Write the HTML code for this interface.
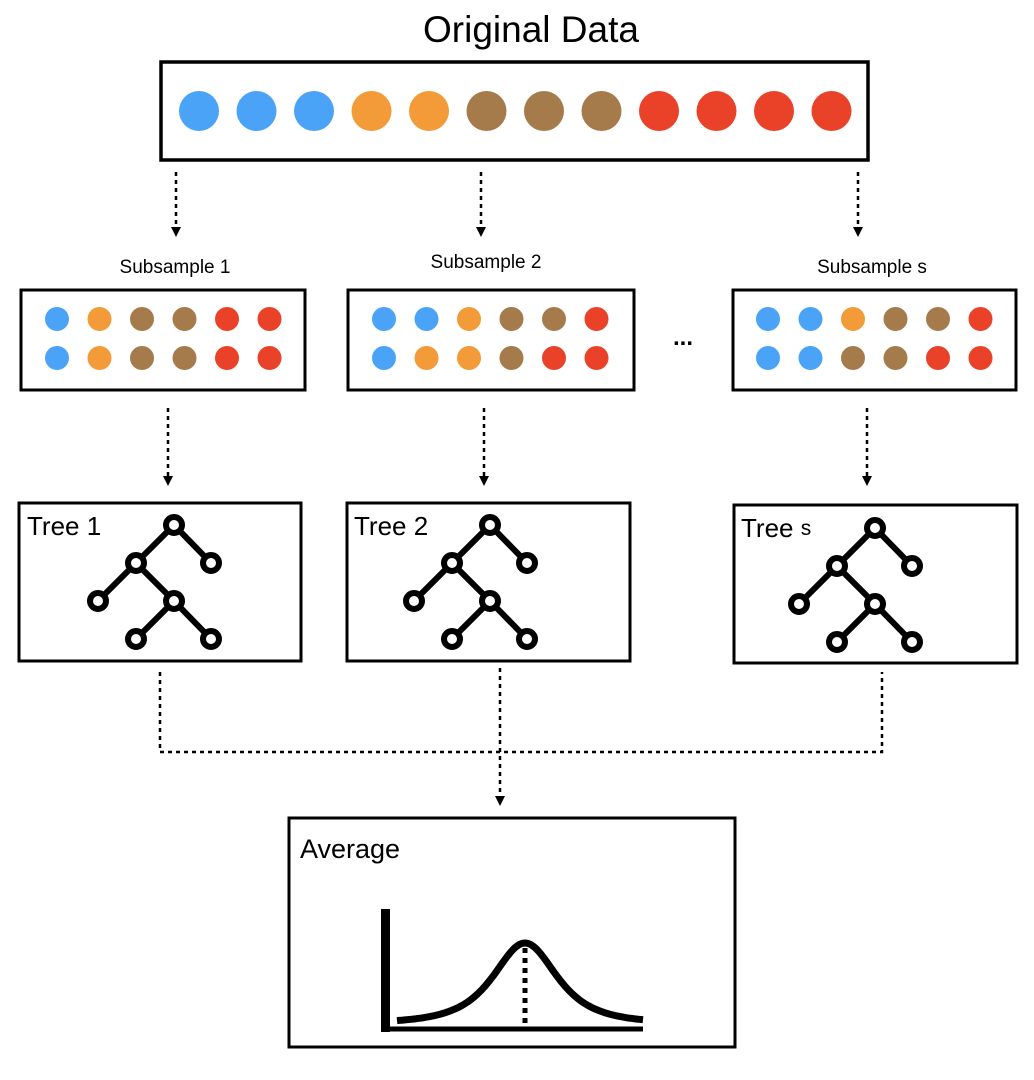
<!DOCTYPE html>
<html><head><meta charset="utf-8"><style>
html,body{margin:0;padding:0;background:#fff;width:1034px;height:1080px;overflow:hidden}
svg{display:block;font-family:"Liberation Sans",sans-serif}
</style></head><body>
<svg id="s" width="1034" height="1080" viewBox="0 0 1034 1080">
<defs><marker id="ah" markerWidth="12" markerHeight="12" refX="2" refY="5" orient="auto" markerUnits="userSpaceOnUse"><path d="M0,0 L10,5 L0,10 z" fill="#000"/></marker></defs>
<text x="531" y="42" font-size="37" text-anchor="middle">Original Data</text>
<rect x="161" y="62" width="707" height="98" fill="none" stroke="#000" stroke-width="3.5"/>
<g id="orig"></g>
<g stroke="#000" stroke-width="2.5" stroke-dasharray="4,4" fill="none">
<line x1="176" y1="172" x2="176" y2="229" marker-end="url(#ah)"/>
<line x1="481" y1="172" x2="481" y2="229" marker-end="url(#ah)"/>
<line x1="858" y1="172" x2="858" y2="229" marker-end="url(#ah)"/>
<line x1="168" y1="408" x2="168" y2="478" marker-end="url(#ah)"/>
<line x1="484" y1="408" x2="484" y2="478" marker-end="url(#ah)"/>
<line x1="867" y1="408" x2="867" y2="478" marker-end="url(#ah)"/>
<polyline points="160,672 160,752 882,752 882,672"/>
<line x1="500" y1="668" x2="500" y2="798" marker-end="url(#ah)"/>
</g>
<text x="175" y="273" font-size="19" text-anchor="middle">Subsample 1</text>
<text x="486" y="268" font-size="19" text-anchor="middle">Subsample 2</text>
<text x="872" y="273" font-size="19" text-anchor="middle">Subsample s</text>
<rect x="21" y="290" width="284" height="100" fill="none" stroke="#000" stroke-width="3"/>
<rect x="348" y="290" width="286" height="100" fill="none" stroke="#000" stroke-width="3"/>
<rect x="733" y="290" width="283" height="100" fill="none" stroke="#000" stroke-width="3"/>
<text x="683" y="345" font-size="24" font-weight="bold" text-anchor="middle">...</text>
<g id="subs"></g>
<rect x="19" y="503" width="282" height="158" fill="none" stroke="#000" stroke-width="3"/>
<rect x="347" y="503" width="283" height="158" fill="none" stroke="#000" stroke-width="3"/>
<rect x="734" y="505" width="283" height="158" fill="none" stroke="#000" stroke-width="3"/>
<text x="27" y="535" font-size="26">Tree 1</text>
<text x="354" y="535" font-size="26">Tree 2</text>
<text x="741" y="537" font-size="26">Tree <tspan font-size="21" dy="-2">s</tspan></text>
<g id="trees"></g>
<rect x="289" y="818" width="446" height="229" fill="none" stroke="#000" stroke-width="3"/>
<text x="300" y="858" font-size="27">Average</text>
<rect x="381" y="909" width="9" height="123" fill="#000"/>
<line x1="385" y1="1029" x2="643" y2="1029" stroke="#000" stroke-width="5"/>
<path id="curve" fill="none" stroke="#000" stroke-width="7"/>
<line x1="525" y1="948" x2="525" y2="1028" stroke="#000" stroke-width="5" stroke-dasharray="5,5"/>
</svg>
<script>
const COL={B:"#4BA3F7",O:"#F29B38",Br:"#A57B4B",R:"#EA4228"};
const original=["B","B","B","O","O","Br","Br","Br","R","R","R","R"];
const sub1=[["B","O","Br","Br","R","R"],["B","O","Br","Br","R","R"]];
const sub2=[["B","B","O","Br","Br","R"],["B","O","O","Br","R","R"]];
const subS=[["B","B","O","Br","Br","R"],["B","B","Br","Br","R","R"]];
const NS="http://www.w3.org/2000/svg";
function el(t,a,p){const e=document.createElementNS(NS,t);for(const k in a)e.setAttribute(k,a[k]);p.appendChild(e);return e;}
const g0=document.getElementById('orig');
original.forEach((c,i)=>{const e=el('circle',{cx:199+i*57.5,cy:111,r:20,fill:COL[c]},g0);

});
const gs=document.getElementById('subs');
[[sub1,57],[sub2,384],[subS,768]].forEach(([d,x0])=>{d.forEach((row,r)=>row.forEach((c,i)=>{
const e=el('circle',{cx:x0+i*42.5,cy:319+r*39,r:12,fill:COL[c]},gs);

}));});
const gt=document.getElementById('trees');
const nodes=[[0,0],[-38,38],[37,38],[-76,76],[0,76],[-38,114],[37,114]];
const edges=[[0,1],[0,2],[1,3],[1,4],[4,5],[4,6]];
[[174,525],[490,525],[875,528]].forEach(([x0,y0])=>{
const g=el('g',{},gt);


edges.forEach(([a,b])=>el('line',{x1:x0+nodes[a][0],y1:y0+nodes[a][1],x2:x0+nodes[b][0],y2:y0+nodes[b][1],stroke:'#000','stroke-width':6},g));
nodes.forEach(([dx,dy])=>el('circle',{cx:x0+dx,cy:y0+dy,r:8,fill:'#fff',stroke:'#000','stroke-width':6},g));});
const mu=525,sig=38,base=1024,peak=943;let d="";
for(let x=397;x<=643;x+=2){const z=(x-mu)/sig;const y=base-(base-peak)/(1+z*z*0.55)**1.6;d+=(x==397?"M":"L")+x+","+y.toFixed(1);}
document.getElementById('curve').setAttribute('d',d);
</script>
</body></html>
